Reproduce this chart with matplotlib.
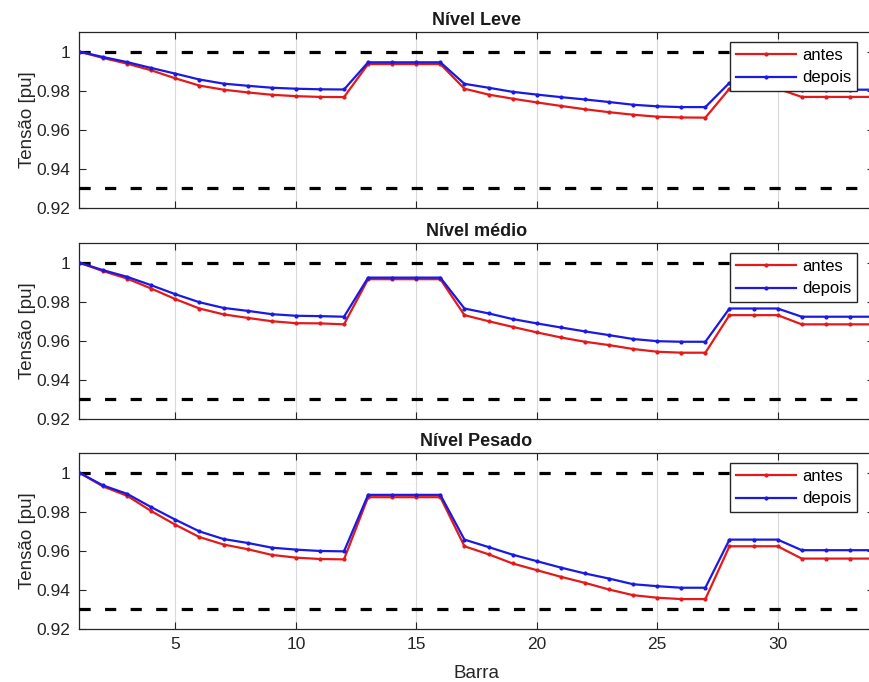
import matplotlib
matplotlib.use('Agg')
import matplotlib.pyplot as plt
import numpy as np

plt.rcParams['font.family'] = ['Liberation Sans', 'DejaVu Sans']

# Bus numbers
barra = list(range(1, 35))

# Voltage profiles [pu], before and after
leve_antes = [1.000, 0.9967, 0.9938, 0.9904, 0.9863, 0.9826, 0.9805, 0.9791, 0.9779, 0.9772,
              0.9768, 0.9767, 0.9936, 0.9936, 0.9936, 0.9936, 0.9810, 0.9780, 0.9759, 0.9740,
              0.9722, 0.9705, 0.9690, 0.9677, 0.9667, 0.9663, 0.9662, 0.9810, 0.9810, 0.9810,
              0.9768, 0.9768, 0.9768, 0.9768]
leve_depois = [1.000, 0.9972, 0.9946, 0.9916, 0.9887, 0.9857, 0.9836, 0.9825, 0.9815, 0.9810,
               0.9807, 0.9806, 0.9945, 0.9945, 0.9945, 0.9945, 0.9835, 0.9815, 0.9794, 0.9780,
               0.9767, 0.9755, 0.9742, 0.9728, 0.9720, 0.9716, 0.9716, 0.9840, 0.9840, 0.9840,
               0.9805, 0.9805, 0.9805, 0.9805]

medio_antes = [1.000, 0.9956, 0.9918, 0.9867, 0.9813, 0.9765, 0.9735, 0.9717, 0.9700, 0.9690,
               0.9689, 0.9684, 0.9915, 0.9915, 0.9915, 0.9915, 0.9731, 0.9700, 0.9671, 0.9643,
               0.9617, 0.9595, 0.9578, 0.9558, 0.9544, 0.9539, 0.9539, 0.9731, 0.9731, 0.9731,
               0.9684, 0.9684, 0.9684, 0.9684]
medio_depois = [1.000, 0.9961, 0.9927, 0.9884, 0.9838, 0.9797, 0.9768, 0.9753, 0.9736, 0.9728,
                0.9726, 0.9723, 0.9923, 0.9923, 0.9923, 0.9923, 0.9765, 0.9740, 0.9711, 0.9689,
                0.9668, 0.9648, 0.9629, 0.9609, 0.9598, 0.9595, 0.9595, 0.9765, 0.9765, 0.9765,
                0.9723, 0.9723, 0.9723, 0.9723]

pesado_antes = [1.000, 0.9929, 0.9881, 0.9803, 0.9733, 0.9670, 0.9632, 0.9608, 0.9579, 0.9565,
                0.9558, 0.9556, 0.9874, 0.9874, 0.9874, 0.9874, 0.9623, 0.9582, 0.9535, 0.9501,
                0.9467, 0.9436, 0.9402, 0.9373, 0.9360, 0.9353, 0.9353, 0.9623, 0.9623, 0.9623,
                0.9560, 0.9560, 0.9560, 0.9560]
pesado_depois = [1.000, 0.9934, 0.9891, 0.9823, 0.9759, 0.9699, 0.9660, 0.9640, 0.9616, 0.9606,
                 0.9599, 0.9597, 0.9886, 0.9886, 0.9886, 0.9886, 0.9657, 0.9619, 0.9580, 0.9547,
                 0.9514, 0.9484, 0.9458, 0.9429, 0.9419, 0.9411, 0.9411, 0.9657, 0.9657, 0.9657,
                 0.9603, 0.9603, 0.9603, 0.9603]

titulos = ['Nível Leve', 'Nível médio', 'Nível Pesado']
limites = [1.0, 0.93]
xticks = [5, 10, 15, 20, 25, 30]
yticks = [0.92, 0.94, 0.96, 0.98, 1.0]
ytick_labels = ['0.92', '0.94', '0.96', '0.98', '1']

series = [(leve_antes, leve_depois), (medio_antes, medio_depois), (pesado_antes, pesado_depois)]

W, H = 869, 682
fig = plt.figure(figsize=(W / 100, H / 100), dpi=100)

# axes boxes in pixels: (top, bottom)
boxes = [(32, 208), (243, 419), (453, 629)]
left_px, right_px = 79, 874

gray = '#262626'
for k in range(3):
    top, bot = boxes[k]
    ax = fig.add_axes([left_px / W, 1 - bot / H, (right_px - left_px) / W, (bot - top) / H])
    antes, depois = series[k]

    for lim in limites:
        ax.axhline(lim, color='k', lw=2.3, linestyle=(0, (3.5, 4.5)), zorder=3)
    ax.plot(barra, antes, '.-', color='#e41a1a', lw=1.6, ms=4, label='antes', zorder=4)
    ax.plot(barra, depois, '.-', color='#1a1ae0', lw=1.6, ms=4, label='depois', zorder=5)

    ax.set_xlim(1, 34)
    ax.set_ylim(0.92, 1.01)
    ax.set_xticks(xticks)
    ax.set_yticks(yticks)
    ax.set_yticklabels(ytick_labels)
    if k < 2:
        ax.set_xticklabels([])
    ax.xaxis.grid(True, color='#d9d9d9', lw=0.8)
    ax.tick_params(direction='in', top=True, right=True, labelsize=12.5,
                   colors=gray, length=5, width=0.8, pad=6)
    for s in ax.spines.values():
        s.set_color(gray)
        s.set_linewidth(0.9)

    ax.set_title(titulos[k], fontsize=13, fontweight='bold', color='#1a1a1a', pad=5)
    ax.set_ylabel('Tensão [pu]', fontsize=13.5, color=gray)
    ax.yaxis.set_label_coords(-0.054, 0.5)

    leg = ax.legend(loc='upper right', bbox_to_anchor=(0.979, 0.943), borderaxespad=0,
                    fontsize=12, frameon=True, fancybox=False, framealpha=1,
                    handlelength=3.6, handletextpad=0.4, borderpad=0.35, labelspacing=0.45)
    leg.get_frame().set_edgecolor('#262626')
    leg.get_frame().set_linewidth(1.0)
    leg.set_zorder(10)

    if k == 2:
        ax.set_xlabel('Barra', fontsize=13.5, color=gray, labelpad=9)

plt.savefig('out.png', dpi=100)
